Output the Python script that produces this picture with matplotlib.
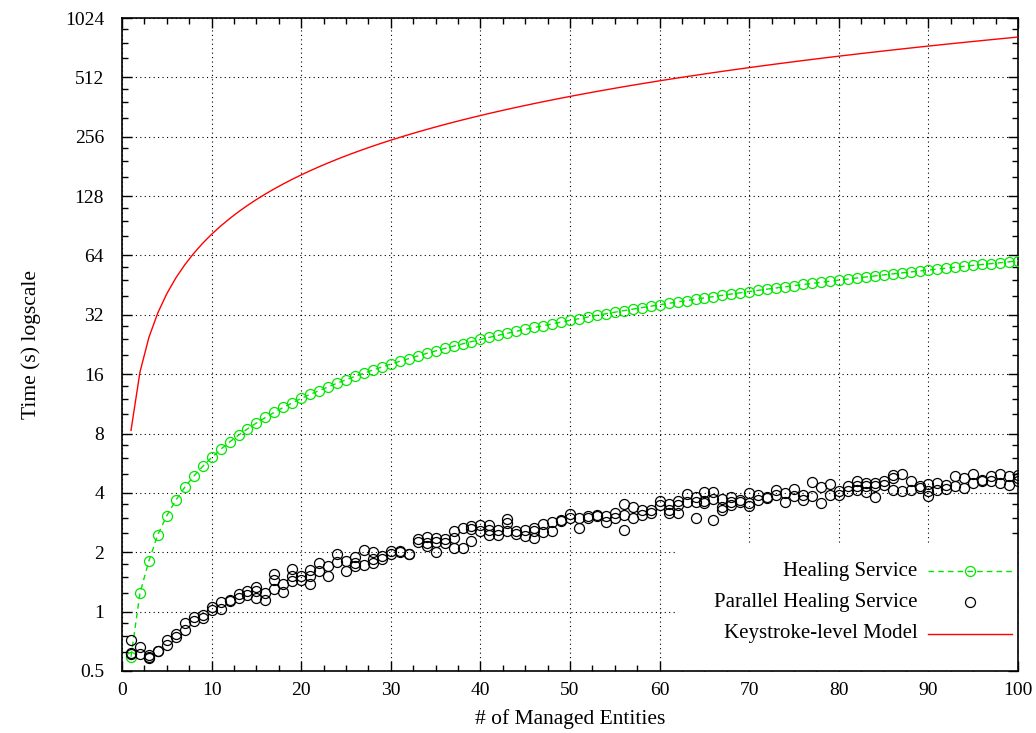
import numpy as np
import matplotlib
matplotlib.use('Agg')
import matplotlib.pyplot as plt
from matplotlib.ticker import FixedLocator, NullFormatter
from matplotlib.patches import Rectangle

plt.rcParams['font.family'] = ['Liberation Serif', 'DejaVu Serif']

entities = list(range(1, 101))

# Healing Service (green, dashed with circles)
healing = [0.59, 1.24, 1.81, 2.46, 3.07, 3.67, 4.27, 4.86, 5.45, 6.05,
           6.65, 7.25, 7.85, 8.45, 9.05, 9.65, 10.25, 10.85, 11.45, 12.05,
           12.65, 13.2, 13.8, 14.4, 15.0, 15.6, 16.2, 16.8, 17.4, 18.0,
           18.6, 19.2, 19.8, 20.4, 21.0, 21.6, 22.2, 22.8, 23.4, 24.0,
           24.6, 25.2, 25.8, 26.4, 27.0, 27.6, 28.2, 28.8, 29.4, 30.0,
           30.6, 31.2, 31.8, 32.4, 33.0, 33.6, 34.2, 34.8, 35.4, 36.0,
           36.6, 37.2, 37.8, 38.4, 39.0, 39.6, 40.2, 40.8, 41.4, 42.0,
           42.6, 43.2, 43.8, 44.4, 45.0, 45.6, 46.2, 46.8, 47.4, 48.0,
           48.6, 49.2, 49.8, 50.4, 51.0, 51.6, 52.2, 52.8, 53.4, 54.0,
           54.6, 55.2, 55.8, 56.4, 57.0, 57.6, 58.2, 58.8, 59.4, 60.2]

# Keystroke-level Model (red line)
keystroke = [8.3, 16.4, 24.6, 32.8, 41, 49.2, 57.4, 65.6, 73.8, 82,
             90.2, 98.4, 106.6, 114.8, 123, 131.2, 139.4, 147.6, 155.8, 164,
             172.2, 180.4, 188.6, 196.8, 205, 213.2, 221.4, 229.6, 237.8, 246,
             254.2, 262.4, 270.6, 278.8, 287, 295.2, 303.4, 311.6, 319.8, 328,
             336.2, 344.4, 352.6, 360.8, 369, 377.2, 385.4, 393.6, 401.8, 410,
             418.2, 426.4, 434.6, 442.8, 451, 459.2, 467.4, 475.6, 483.8, 492,
             500.2, 508.4, 516.6, 524.8, 533, 541.2, 549.4, 557.6, 565.8, 574,
             582.2, 590.4, 598.6, 606.8, 615, 623.2, 631.4, 639.6, 647.8, 656,
             664.2, 672.4, 680.6, 688.8, 697, 705.2, 713.4, 721.6, 729.8, 738,
             746.2, 754.4, 762.6, 770.8, 779, 787.2, 795.4, 803.6, 811.8, 820]

# Parallel Healing Service: several runs per number of entities (x = 1..100)
parallel = [
    [0.72, 0.61, 0.62], [0.66, 0.61], [0.60, 0.59, 0.58], [0.63, 0.63], [0.72, 0.68],
    [0.77, 0.74], [0.88, 0.81], [0.94, 0.90], [0.96, 0.93], [1.05, 1.02],
    [1.12, 1.03], [1.14, 1.13], [1.23, 1.17], [1.27, 1.21], [1.33, 1.27, 1.17],
    [1.25, 1.15], [1.55, 1.44, 1.30], [1.38, 1.26], [1.64, 1.51, 1.43], [1.51, 1.44],
    [1.62, 1.52, 1.38], [1.77, 1.60], [1.70, 1.52], [1.97, 1.78], [1.81, 1.60],
    [1.89, 1.77, 1.70], [2.06, 1.72], [2.00, 1.84, 1.77], [1.92, 1.84], [2.02, 1.95],
    [2.02, 2.00], [1.97, 1.95], [2.34, 2.25], [2.38, 2.23, 2.14], [2.36, 2.25, 2.01],
    [2.33, 2.22], [2.56, 2.36, 2.10], [2.66, 2.10], [2.71, 2.61, 2.27], [2.76, 2.56],
    [2.76, 2.60, 2.46], [2.60, 2.44], [2.95, 2.81, 2.55], [2.56, 2.48], [2.60, 2.42],
    [2.66, 2.55, 2.36], [2.78, 2.52], [2.86, 2.57], [2.93, 2.87], [3.13, 2.98],
    [2.98, 2.66], [3.06, 2.98], [3.10, 3.04], [3.06, 2.85], [3.16, 2.98],
    [3.53, 3.10, 2.60], [3.39, 3.00], [3.29, 3.10], [3.27, 3.16], [3.65, 3.47],
    [3.50, 3.28, 3.16], [3.62, 3.46, 3.16], [3.95, 3.60], [3.80, 3.60, 2.98], [4.04, 3.65, 3.55],
    [4.04, 3.74, 2.90], [3.74, 3.38, 3.29], [3.80, 3.60, 3.46], [3.70, 3.60], [4.00, 3.55, 3.42],
    [3.90, 3.70], [3.80, 3.75], [4.15, 3.90], [4.00, 3.60], [4.20, 3.85],
    [3.90, 3.70], [4.54, 3.85], [4.31, 3.55], [4.43, 3.92], [4.07, 3.90],
    [4.35, 4.10], [4.58, 4.32, 4.15], [4.50, 4.32, 4.06], [4.48, 4.32, 3.80], [4.58, 4.37],
    [4.94, 4.75, 4.15], [4.98, 4.07], [4.61, 4.15], [4.32, 4.24], [4.43, 4.07, 3.85],
    [4.50, 4.15], [4.37, 4.20], [4.89, 4.32], [4.75, 4.24], [4.98, 4.48],
    [4.65, 4.58], [4.85, 4.58], [4.98, 4.48], [4.85, 4.37], [4.94, 4.75, 4.61],
]
par_x = [x for x, vals in zip(entities, parallel) for v in vals]
par_y = [v for vals in parallel for v in vals]

ytick_vals = [0.5, 1, 2, 4, 8, 16, 32, 64, 128, 256, 512, 1024]
ytick_labels = ['0.5', '1', '2', '4', '8', '16', '32', '64', '128', '256', '512', '1024']
xtick_vals = list(range(0, 101, 10))

green = '#00e600'
ms = 7.2

fig = plt.figure(figsize=(10.36, 7.33), dpi=100)
ax = fig.add_axes([0.1178, 0.0846, 0.8649, 0.8908])

ax.set_yscale('log', base=2)
ax.set_xlim(0, 100)
ax.set_ylim(0.5, 1024)

ax.set_axisbelow(True)
ax.grid(True, which='major', color='black', linestyle=(0, (1, 3)), linewidth=0.8)

# gnuplot key box blanks the grid behind it
ax.add_patch(Rectangle((0.617, 0.0), 0.383, 0.193, transform=ax.transAxes,
                       facecolor='white', edgecolor='none', zorder=1))

ax.plot(entities, healing, color=green, linestyle=(0, (4, 3)), linewidth=1,
        marker='o', markersize=ms, markerfacecolor='none', markeredgecolor=green,
        markeredgewidth=0.9, zorder=3)
ax.plot(par_x, par_y, linestyle='none', marker='o', markersize=ms,
        markerfacecolor='none', markeredgecolor='black', markeredgewidth=0.9, zorder=3)
ax.plot(entities, keystroke, color='red', linewidth=1, zorder=3)

# ticks
ax.set_xticks(xtick_vals)
ax.xaxis.set_minor_locator(FixedLocator(np.arange(0, 100.1, 2.5)))
ax.yaxis.set_major_locator(FixedLocator(ytick_vals))
ax.set_yticklabels(ytick_labels)
ax.yaxis.set_minor_locator(FixedLocator([m * f for m in ytick_vals[:-1] for f in (1.25, 1.5, 1.75)]))
ax.yaxis.set_minor_formatter(NullFormatter())
ax.tick_params(which='both', direction='in', top=True, right=True, labelsize=14)
ax.tick_params(which='major', length=7, width=1)
ax.tick_params(which='minor', length=4, width=1)
ax.tick_params(axis='y', which='major', pad=13)
ax.tick_params(axis='x', which='major', pad=8)
for s in ax.spines.values():
    s.set_linewidth(1.2)

ax.set_ylabel('Time (s) logscale', fontsize=15.5)
ax.set_xlabel('# of Managed Entities', fontsize=15.5)
ax.yaxis.set_label_coords(-0.09, 0.5)
ax.xaxis.set_label_coords(0.5, -0.058)

# key, gnuplot style: right-aligned text, sample to the right
key_rows = [0.153, 0.105, 0.057]
tx, l0, l1 = 0.888, 0.8996, 0.9933
lm = (l0 + l1) / 2
fs_key = 15
ax.text(tx, key_rows[0], 'Healing Service', transform=ax.transAxes, ha='right', va='center', fontsize=fs_key)
ax.plot([l0, lm, l1], [key_rows[0]] * 3, transform=ax.transAxes, color=green,
        linestyle=(0, (4, 3)), linewidth=1, marker='o', markevery=[1], markersize=ms,
        markerfacecolor='none', markeredgecolor=green, markeredgewidth=0.9, zorder=3)
ax.text(tx, key_rows[1], 'Parallel Healing Service', transform=ax.transAxes, ha='right', va='center', fontsize=fs_key)
ax.plot([lm], [key_rows[1]], transform=ax.transAxes, linestyle='none', marker='o', markersize=ms,
        markerfacecolor='none', markeredgecolor='black', markeredgewidth=0.9, zorder=3)
ax.text(tx, key_rows[2], 'Keystroke-level Model', transform=ax.transAxes, ha='right', va='center', fontsize=fs_key)
ax.plot([l0, l1], [key_rows[2]] * 2, transform=ax.transAxes, color='red', linewidth=1, zorder=3)

fig.savefig('out.png', dpi=100)
